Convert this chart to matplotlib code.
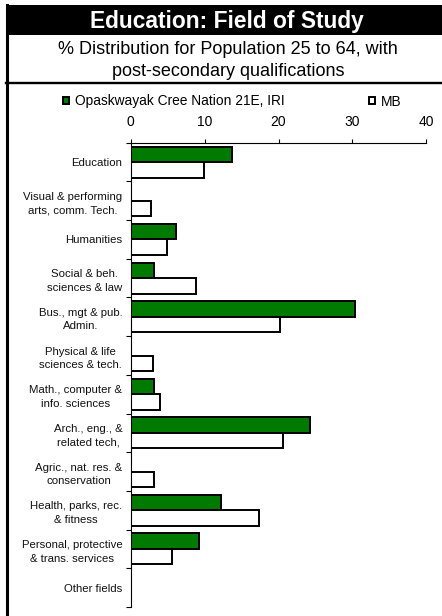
import numpy as np
import matplotlib
matplotlib.use("Agg")
import matplotlib.pyplot as plt
from matplotlib.patches import Rectangle
from matplotlib.lines import Line2D

plt.rcParams['font.family'] = ['Liberation Sans', 'DejaVu Sans']

# Field of study categories (top to bottom)
fields = [
    "Education",
    "Visual & performing\narts, comm. Tech.",
    "Humanities",
    "Social & beh.\nsciences & law",
    "Bus., mgt & pub.\nAdmin.",
    "Physical & life\nsciences & tech.",
    "Math., computer &\ninfo. sciences",
    "Arch., eng., &\nrelated tech,",
    "Agric., nat. res. &\nconservation",
    "Health, parks, rec.\n& fitness",
    "Personal, protective\n& trans. services",
    "Other fields",
]

# % distribution, population 25 to 64 with post-secondary qualifications
opaskwayak = [13.7, 0.0, 6.1, 3.1, 30.4, 0.0, 3.1, 24.3, 0.0, 12.2, 9.2, 0.0]
manitoba = [9.9, 2.8, 4.9, 8.8, 20.2, 3.0, 4.0, 20.6, 3.2, 17.4, 5.6, 0.0]

W, H = 442, 616
fig = plt.figure(figsize=(W / 100, H / 100), dpi=100)

# header band and frame lines
fig.add_artist(Rectangle((6 / W, 1 - 35 / H), 1, 30.5 / H, transform=fig.transFigure,
                         facecolor='black', edgecolor='none'))
fig.add_artist(Line2D([7.5 / W, 7.5 / W], [0, 1 - 5 / H], transform=fig.transFigure,
                      color='black', lw=2.2))
fig.add_artist(Line2D([6 / W, 1], [1 - 83 / H, 1 - 83 / H], transform=fig.transFigure,
                      color='black', lw=1.7))

fig.text(227 / W, 1 - 28 / H, "Education: Field of Study", color='white',
         fontsize=16.4, fontweight='bold', ha='center', va='baseline')
fig.text(228 / W, 1 - 54.5 / H, "% Distribution for Population 25 to 64, with",
         fontsize=13, ha='center', va='baseline')
fig.text(228 / W, 1 - 75.5 / H, "post-secondary qualifications",
         fontsize=13, ha='center', va='baseline')

ax = fig.add_axes([130.7 / W, 1 - 607 / H, 295.6 / W, 464.3 / H])

y = np.arange(len(fields))
h = 0.4
b1 = ax.barh(y - h / 2, opaskwayak, height=h, color='#007a00', edgecolor='black',
             linewidth=1.4, label='Opaskwayak Cree Nation 21E, IRI')
b2 = ax.barh(y + h / 2, manitoba, height=h, color='white', edgecolor='black',
             linewidth=1.4, label='MB')

ax.set_xlim(0, 40)
ax.set_ylim(len(fields) - 0.5, -0.5)
ax.xaxis.tick_top()
ax.set_xticks([0, 10, 20, 30, 40])
ax.tick_params(axis='x', labelsize=10, length=3, width=0.8, pad=7, direction='out')

# category boundaries get ticks, labels sit at centres
ax.set_yticks(np.arange(len(fields) + 1) - 0.5)
ax.set_yticklabels([])
ax.set_yticks(y, minor=True)
ax.set_yticklabels(fields, minor=True, fontsize=8.2, color='#111111')
for lbl in ax.get_yticklabels(minor=True):
    lbl.set_multialignment('center')
    lbl.set_linespacing(1.45)
ax.tick_params(axis='y', which='major', length=3.5, width=0.8, direction='out')
ax.tick_params(axis='y', which='minor', length=0, pad=6)

for s in ['right', 'bottom']:
    ax.spines[s].set_visible(False)
for s in ['left', 'top']:
    ax.spines[s].set_linewidth(0.8)

fig.legend(handles=[b1, b2], loc='center left', bbox_to_anchor=(63 / W, 1 - 101.5 / H),
           ncol=2, frameon=False, fontsize=9.9, handlelength=0.45, handleheight=0.45,
           handletextpad=0.45, columnspacing=6.1, borderpad=0, borderaxespad=0)

fig.savefig("out.png", dpi=100)
